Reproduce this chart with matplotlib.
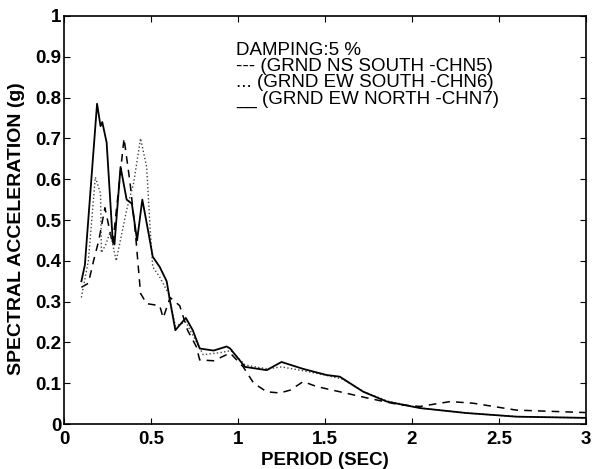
import matplotlib
matplotlib.use('Agg')
import matplotlib.pyplot as plt

# Spectral acceleration curves (period in s, Sa in g)
ns_period = [0.10, 0.14, 0.17, 0.20, 0.235, 0.26, 0.28, 0.30, 0.345, 0.38, 0.41, 0.44,
             0.475, 0.55, 0.57, 0.61, 0.665, 0.71, 0.76, 0.78, 0.86, 0.955, 1.03, 1.09,
             1.165, 1.24, 1.30, 1.375, 1.45, 1.585, 1.74, 1.93, 2.046, 2.22, 2.35, 2.6, 3.0]
ns_sa = [0.335, 0.345, 0.40, 0.45, 0.53, 0.48, 0.44, 0.52, 0.70, 0.59, 0.47, 0.32,
         0.295, 0.29, 0.26, 0.31, 0.29, 0.23, 0.19, 0.157, 0.155, 0.174, 0.14, 0.10,
         0.079, 0.076, 0.083, 0.104, 0.092, 0.079, 0.064, 0.047, 0.043, 0.055, 0.051, 0.034, 0.028]

ews_period = [0.10, 0.14, 0.18, 0.21, 0.215, 0.24, 0.265, 0.30, 0.36, 0.40, 0.44, 0.475,
              0.495, 0.51, 0.55, 0.60, 0.64, 0.70, 0.75, 0.80, 0.90, 0.96, 1.04, 1.10, 1.17,
              1.25, 1.38, 1.50, 1.60, 1.72, 1.86, 2.05, 2.31, 2.6, 3.0]
ews_sa = [0.31, 0.40, 0.605, 0.565, 0.42, 0.44, 0.47, 0.40, 0.525, 0.59, 0.70, 0.63,
          0.48, 0.385, 0.36, 0.32, 0.24, 0.25, 0.21, 0.17, 0.175, 0.18, 0.145, 0.14, 0.135,
          0.14, 0.13, 0.12, 0.11, 0.08, 0.056, 0.039, 0.027, 0.018, 0.015]

ewn_period = [0.10, 0.12, 0.19, 0.21, 0.22, 0.245, 0.28, 0.29, 0.325, 0.36, 0.39, 0.42,
              0.45, 0.485, 0.51, 0.55, 0.59, 0.61, 0.64, 0.70, 0.74, 0.78, 0.86, 0.935,
              0.955, 1.04, 1.165, 1.25, 1.375, 1.51, 1.585, 1.72, 1.855, 2.046, 2.31, 2.6, 3.0]
ewn_sa = [0.35, 0.39, 0.785, 0.73, 0.74, 0.69, 0.45, 0.44, 0.63, 0.55, 0.54, 0.45,
          0.55, 0.47, 0.41, 0.385, 0.35, 0.30, 0.23, 0.26, 0.23, 0.185, 0.18, 0.19,
          0.185, 0.14, 0.132, 0.152, 0.135, 0.12, 0.116, 0.079, 0.055, 0.039, 0.027, 0.018, 0.015]

x_ticks = [0, 0.5, 1, 1.5, 2, 2.5, 3]
x_ticklabels = ['0', '0.5', '1', '1.5', '2', '2.5', '3']
y_ticks = [0, 0.1, 0.2, 0.3, 0.4, 0.5, 0.6, 0.7, 0.8, 0.9, 1]
y_ticklabels = ['0', '0.1', '0.2', '0.3', '0.4', '0.5', '0.6', '0.7', '0.8', '0.9', '1']

legend_lines = ['DAMPING:5 %',
                '--- (GRND NS SOUTH -CHN5)',
                '... (GRND EW SOUTH -CHN6)',
                '__ (GRND EW NORTH -CHN7)']

plt.rcParams['font.family'] = ['Liberation Sans', 'DejaVu Sans']

fig = plt.figure(figsize=(5.93, 4.69), dpi=100, facecolor='white')
ax = fig.add_axes([64/593, 1-424/469, 522/593, 408/469])

ax.plot(ns_period, ns_sa, '--', color='black', lw=1.1, dashes=(5, 4))
ax.plot(ews_period, ews_sa, ':', color='#444444', lw=1.0)
ax.plot(ewn_period, ewn_sa, '-', color='black', lw=1.3)

ax.set_xlim(0, 3)
ax.set_ylim(0, 1)
ax.set_xticks(x_ticks)
ax.set_xticklabels(x_ticklabels)
ax.set_yticks(y_ticks)
ax.set_yticklabels(y_ticklabels)
ax.tick_params(direction='in', top=True, right=True, length=4, labelsize=13.5)
ax.tick_params(axis='x', pad=5)
ax.tick_params(axis='y', pad=2)
for lab in ax.get_xticklabels() + ax.get_yticklabels():
    lab.set_fontweight('bold')
for s in ax.spines.values():
    s.set_linewidth(1.2)

ax.set_xlabel('PERIOD (SEC)', fontsize=13.5, fontweight='bold', labelpad=3)
ax.set_ylabel('SPECTRAL ACCELERATION (g)', fontsize=14, fontweight='bold', labelpad=0)
ax.yaxis.set_label_coords(-0.075, 0.48)

# legend is plain text in the original
for i, t in enumerate(legend_lines):
    ax.text(0.33, 0.916 - i*0.04, t, transform=ax.transAxes, fontsize=13.5,
            va='center', ha='left')

fig.savefig('out.png', dpi=100)
